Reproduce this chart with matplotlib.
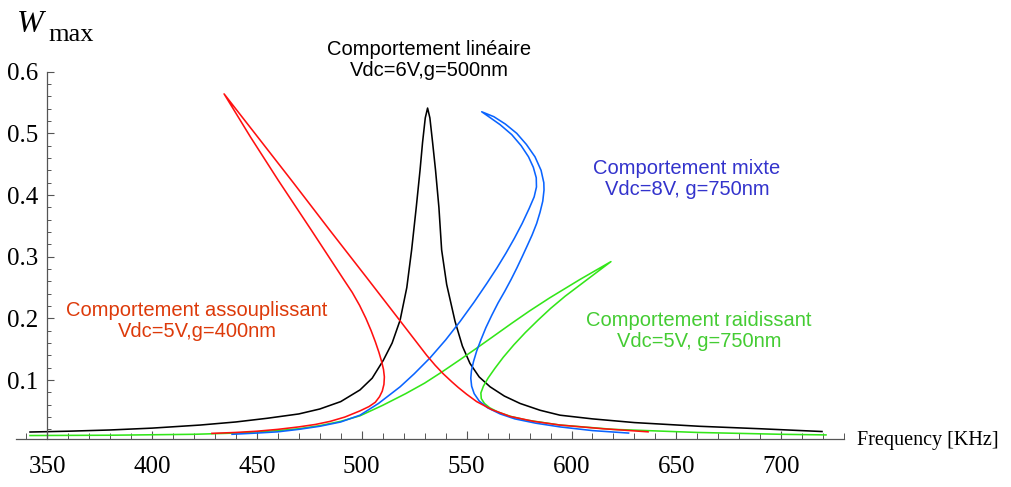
import matplotlib
matplotlib.use("Agg")
import matplotlib.pyplot as plt
import numpy as np

# curves (frequency in KHz, amplitude Wmax)
black_x = [341.9, 360, 380, 400, 423, 440, 455, 470, 480, 490, 499.2, 505, 510.3, 514.5, 518.3, 521.5,
           523.8, 526, 527.8, 529, 530.3, 531.4, 532.5, 533.8, 535.2, 536.8, 538.1, 540.5, 544.5, 548,
           551.6, 556, 561.2, 568, 575.5, 585, 594.5, 610, 630, 661, 690, 719.4]
black_y = [0.0157, 0.017, 0.019, 0.022, 0.027, 0.032, 0.038, 0.045, 0.053, 0.065, 0.084, 0.103, 0.132, 0.160,
           0.197, 0.250, 0.311, 0.380, 0.440, 0.485, 0.525, 0.541, 0.525, 0.485, 0.440, 0.380, 0.311, 0.255,
           0.195, 0.155, 0.127, 0.105, 0.089, 0.074, 0.062, 0.051, 0.043, 0.037, 0.031, 0.025, 0.021, 0.0165]

red_x = [428.6, 440, 450, 460, 470, 478, 485, 492, 499.2, 503.5, 506.5, 508.5, 509.8, 510.6, 510.8, 510.4,
         509.5, 508.2, 506.5, 504.5, 502, 499, 495.5, 491.6, 476, 460.2, 447, 434.4,
         450, 467.4, 485, 502.4, 518.3, 531, 535, 538.9, 543, 546, 550, 554.8, 562, 570.7,
         582, 594.5, 615, 636.5]
red_y = [0.0135, 0.015, 0.017, 0.020, 0.024, 0.028, 0.033, 0.040, 0.050, 0.057, 0.064, 0.073, 0.082, 0.093,
         0.105, 0.117, 0.130, 0.145, 0.162, 0.180, 0.200, 0.221, 0.242, 0.262, 0.343, 0.424, 0.494, 0.564,
         0.496, 0.420, 0.342, 0.266, 0.196, 0.140, 0.124, 0.110, 0.097, 0.088, 0.077, 0.065, 0.052, 0.041,
         0.033, 0.027, 0.021, 0.016]

blue_x = [438.2, 450, 460, 470, 480, 490, 499.2, 508, 518.3, 525, 532.6, 540, 546.9, 553.5, 559.7, 564.5,
          568.8, 572.8, 576.5, 579.8, 582.2, 583.3, 583.2, 581.8, 579.5, 576, 571.5, 566, 561, 557.2,
          563, 568.5, 573.9, 578.5, 582.6, 585.5, 586.8, 586.9, 586.3, 585, 583.4, 581.2, 578.8, 576.5,
          574, 571.2, 568.2, 565, 562, 559.2, 556.8, 554.8, 553.3, 552.3, 552, 552.4, 553.6, 556, 560,
          566, 573, 583, 594.5, 610, 627.2]
blue_y = [0.012, 0.014, 0.016, 0.020, 0.025, 0.032, 0.043, 0.062, 0.089, 0.110, 0.136, 0.165, 0.195, 0.226,
          0.257, 0.282, 0.306, 0.330, 0.354, 0.378, 0.397, 0.413, 0.428, 0.445, 0.462, 0.480, 0.498, 0.514,
          0.526, 0.535,
          0.527, 0.515, 0.500, 0.482, 0.462, 0.440, 0.420, 0.408, 0.390, 0.372, 0.354, 0.335, 0.317, 0.300,
          0.282, 0.263, 0.244, 0.225, 0.205, 0.185, 0.165, 0.147, 0.130, 0.115, 0.103, 0.090, 0.078, 0.066,
          0.055, 0.045, 0.037, 0.030, 0.024, 0.018, 0.014]

green_x = [341.9, 380, 420, 440, 460, 470, 480, 490, 499.2, 510, 521, 530, 538.2, 546, 554.1, 562, 571.5,
           580, 589.5, 604, 618.8,
           611, 604, 597, 590, 584, 578, 572.5, 567.5, 563.5, 560.2, 558, 556.8, 557, 558.5, 561, 565,
           571, 578.7, 594.5, 620, 660, 700, 721.3]
green_y = [0.010, 0.0105, 0.012, 0.014, 0.018, 0.021, 0.026, 0.033, 0.042, 0.059, 0.078, 0.095, 0.113, 0.131,
           0.150, 0.169, 0.192, 0.212, 0.233, 0.263, 0.292,
           0.272, 0.254, 0.236, 0.216, 0.197, 0.177, 0.157, 0.137, 0.119, 0.103, 0.090, 0.079, 0.070, 0.062,
           0.055, 0.048, 0.041, 0.035, 0.027, 0.020, 0.015, 0.012, 0.011]

x_major = [350, 400, 450, 500, 550, 600, 650, 700]
y_major = [0.1, 0.2, 0.3, 0.4, 0.5, 0.6]

W, H = 1011, 487
fig = plt.figure(figsize=(W / 100, H / 100), dpi=100)
ax = fig.add_axes([0, 0, 1, 1])

# pixel mapping of the reference: x=350 at px 47, 2.098 px/KHz; y=0 at px 441.7, 616.7 px/unit
ax.set_xlim(350 - 47 / 2.098, 350 + (W - 47) / 2.098)
ax.set_ylim((441.7 - H) / 616.7, 441.7 / 616.7)

lw = 1.15
ax.plot(black_x, black_y, color="black", lw=lw)
ax.plot(green_x, green_y, color="#33e619", lw=lw)
ax.plot(blue_x, blue_y, color="#0a64ff", lw=lw)
ax.plot(red_x, red_y, color="#ff1010", lw=lw)

for s in ["top", "right"]:
    ax.spines[s].set_visible(False)
ax.spines["left"].set_position(("data", 350))
ax.spines["bottom"].set_position(("data", 0.004))
ax.spines["left"].set_bounds(0.004, 0.6)
ax.spines["bottom"].set_bounds(335, 730)
for s in ["left", "bottom"]:
    ax.spines[s].set_color("#555555")
    ax.spines[s].set_linewidth(0.9)

ax.set_xticks(x_major)
ax.set_xticks(np.arange(340, 731, 10), minor=True)
ax.set_yticks(y_major)
ax.set_yticks(np.arange(0.02, 0.6, 0.02), minor=True)
ax.set_xticklabels([str(v) for v in x_major])
ax.set_yticklabels([f"{v:.1f}" for v in y_major])

for lab in ax.get_xticklabels() + ax.get_yticklabels():
    lab.set_fontfamily("Liberation Serif")
    lab.set_fontsize(18)
ax.tick_params(axis="x", which="major", direction="in", length=6, width=0.8, color="#555555", pad=12)
ax.tick_params(axis="x", which="minor", direction="in", length=4, width=0.7, color="#555555")
ax.tick_params(axis="y", which="major", direction="in", length=5, width=0.8, color="#555555", pad=6)
ax.tick_params(axis="y", which="minor", direction="in", length=3, width=0.7, color="#555555")


def px(x, y):
    return x / W, 1 - y / H


fig.text(*px(17, 25), "W", family="Liberation Serif", style="italic", fontsize=23, va="center", ha="left")
fig.text(*px(48, 35), "max", family="Liberation Serif", fontsize=19, va="center", ha="left")
fig.text(*px(857, 440), "Frequency [KHz]", family="Liberation Serif", fontsize=14.5, va="center", ha="left")

sans = "Liberation Sans"
fs = 14.5
fig.text(*px(429, 60), "Comportement linéaire\nVdc=6V,g=500nm", color="black",
         family=sans, fontsize=fs, ha="center", va="center", linespacing=1.15)
fig.text(*px(687, 179), "Comportement mixte\nVdc=8V, g=750nm", color="#3333cc",
         family=sans, fontsize=fs, ha="center", va="center", linespacing=1.15)
fig.text(*px(197, 321), "Comportement assouplissant\nVdc=5V,g=400nm", color="#dd3a0a",
         family=sans, fontsize=fs, ha="center", va="center", linespacing=1.15)
fig.text(*px(699, 331), "Comportement raidissant\nVdc=5V, g=750nm", color="#44cc33",
         family=sans, fontsize=fs, ha="center", va="center", linespacing=1.15)

fig.savefig("out.png", dpi=100)
